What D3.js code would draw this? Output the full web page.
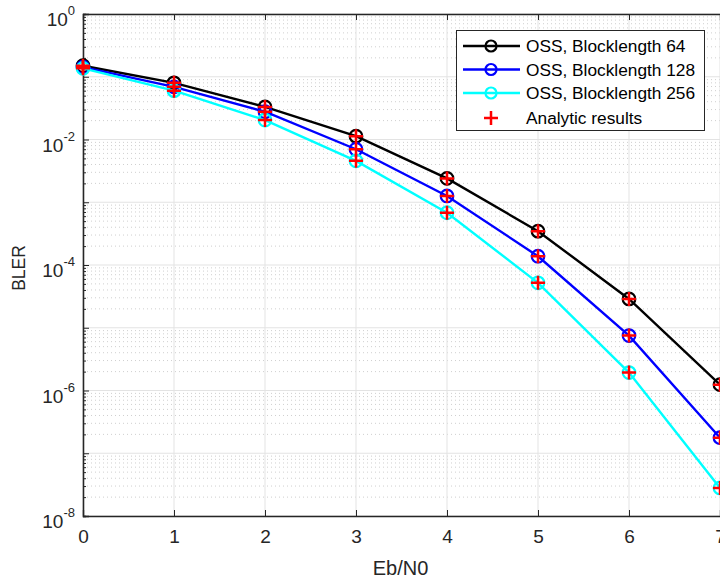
<!DOCTYPE html>
<html><head><meta charset="utf-8">
<script src="https://cdn.jsdelivr.net/npm/d3@7"></script>
<style>body{margin:0;background:#fff}svg{display:block;font-family:"Liberation Sans",Arial,sans-serif}</style>
</head><body><svg id="c" width="720" height="580"></svg>
<script>
const ebn0 = [0,1,2,3,4,5,6,7];
const bler64  = [0.150, 0.080, 0.033, 0.0113, 0.0024, 3.46e-4, 2.88e-5, 1.24e-6];
const bler128 = [0.142, 0.069, 0.0277, 0.0070, 0.00126, 1.38e-4, 7.5e-6, 1.77e-7];
const bler256 = [0.136, 0.060, 0.0204, 0.00457, 0.00068, 5.2e-5, 1.93e-6, 2.8e-8];
const seriesNames = ["OSS, Blocklength 64","OSS, Blocklength 128","OSS, Blocklength 256"];
const seriesColors = ["#000000","#0000ff","#00ffff"];
const analyticName = "Analytic results";
const xTicks = [0,1,2,3,4,5,6,7];
const yTickExps = [0,-2,-4,-6,-8];
const series = [bler64, bler128, bler256];

const svg = d3.select("#c");
const L=83, R=720, T=14, B=516;
const x = d3.scaleLinear().domain([0,7]).range([L,R]);
const y = d3.scaleLog().domain([1e-8,1]).range([B,T]);

// minor grid
const minors=[];
for(let e=-8;e<0;e++) for(let k=2;k<=9;k++) minors.push(k*Math.pow(10,e));
svg.append("g").selectAll("line").data(minors).join("line")
  .attr("x1",L).attr("x2",R).attr("y1",d=>y(d)).attr("y2",d=>y(d))
  .attr("stroke","#cfcfcf").attr("stroke-width",1).attr("stroke-dasharray","1,3");
// major grid
const majors=d3.range(-8,1).map(e=>Math.pow(10,e));
svg.append("g").selectAll("line").data(majors).join("line")
  .attr("x1",L).attr("x2",R).attr("y1",d=>y(d)).attr("y2",d=>y(d))
  .attr("stroke","#e3e3e3").attr("stroke-width",1);
svg.append("g").selectAll("line").data(xTicks).join("line")
  .attr("x1",d=>x(d)).attr("x2",d=>x(d)).attr("y1",T).attr("y2",B)
  .attr("stroke","#e3e3e3").attr("stroke-width",1);

// axes
const axB = svg.append("g").attr("transform",`translate(0,${B})`)
  .call(d3.axisBottom(x).tickValues(xTicks).tickSize(-6).tickPadding(14).tickFormat(d3.format("d")));
const axT = svg.append("g").attr("transform",`translate(0,${T})`)
  .call(d3.axisTop(x).tickValues(xTicks).tickSize(-6).tickFormat(""));
const axL = svg.append("g").attr("transform",`translate(${L},0)`)
  .call(d3.axisLeft(y).tickValues(majors).tickSize(-6).tickFormat(""));
const axLm = svg.append("g").attr("transform",`translate(${L},0)`)
  .call(d3.axisLeft(y).tickValues(minors).tickSize(-3).tickFormat(""));
[axB,axT,axL,axLm].forEach(g=>{
  g.attr("font-size",19).attr("font-family","Liberation Sans, Arial, sans-serif");
  g.select(".domain").attr("stroke","#262626").attr("stroke-width",1.3);
  g.selectAll(".tick line").attr("stroke","#262626");
  g.selectAll("text").attr("font-size",19).attr("fill","#262626");
});
axB.selectAll(".tick text").attr("dy","0.71em");

// y tick labels with superscripts
const yl = svg.append("g");
yTickExps.forEach(e=>{
  const t = yl.append("text").attr("x",L-8).attr("y",y(Math.pow(10,e))+12)
    .attr("text-anchor","end").attr("fill","#262626").attr("font-size",19);
  t.append("tspan").text("10");
  t.append("tspan").attr("dy",-11).attr("font-size",13).text(String(e));
});

// axis titles
svg.append("text").attr("x",(L+R)/2-1).attr("y",575).attr("text-anchor","middle")
  .attr("font-size",20).attr("fill","#262626").text("Eb/N0");
svg.append("text").attr("transform",`translate(25,${(T+B)/2+3}) rotate(-90)`)
  .attr("text-anchor","middle").attr("font-size",17.5).attr("fill","#262626").text("BLER");

// lines
const line = d3.line().x((d,i)=>x(ebn0[i])).y(d=>y(d));
const pg = svg.append("g");
series.forEach((s,k)=>{
  pg.append("path").datum(s).attr("d",line).attr("fill","none")
    .attr("stroke",seriesColors[k]).attr("stroke-width",2.4);
  pg.selectAll(null).data(s).join("circle")
    .attr("cx",(d,i)=>x(ebn0[i])).attr("cy",d=>y(d)).attr("r",6.3)
    .attr("fill","none").attr("stroke",seriesColors[k]).attr("stroke-width",2.2);
});
series.forEach((s)=>{
  pg.selectAll(null).data(s).join("path")
    .attr("d",(d,i)=>{const cx=x(ebn0[i]),cy=y(d);return `M${cx-7},${cy}H${cx+7}M${cx},${cy-7}V${cy+7}`;})
    .attr("stroke","#ff0000").attr("stroke-width",2.5).attr("fill","none");
});

// legend
const lg = svg.append("g");
lg.append("rect").attr("x",456.5).attr("y",30.5).attr("width",248).attr("height",100)
  .attr("fill","#fff").attr("stroke","#262626").attr("stroke-width",1);
const rowsY=[46,69.5,93,118];
seriesNames.forEach((n,k)=>{
  lg.append("line").attr("x1",463).attr("x2",520).attr("y1",rowsY[k]).attr("y2",rowsY[k])
    .attr("stroke",seriesColors[k]).attr("stroke-width",2.4);
  lg.append("circle").attr("cx",491).attr("cy",rowsY[k]).attr("r",5.5)
    .attr("fill","none").attr("stroke",seriesColors[k]).attr("stroke-width",2.2);
  lg.append("text").attr("x",526).attr("y",rowsY[k]+6).attr("font-size",17.3).attr("fill","#000").text(n);
});
lg.append("path").attr("d",`M${484},${rowsY[3]}H${498}M${491},${rowsY[3]-7}V${rowsY[3]+7}`)
  .attr("stroke","#ff0000").attr("stroke-width",2.5);
lg.append("text").attr("x",526).attr("y",rowsY[3]+6).attr("font-size",17.3).attr("fill","#000").text(analyticName);
</script></body></html>
